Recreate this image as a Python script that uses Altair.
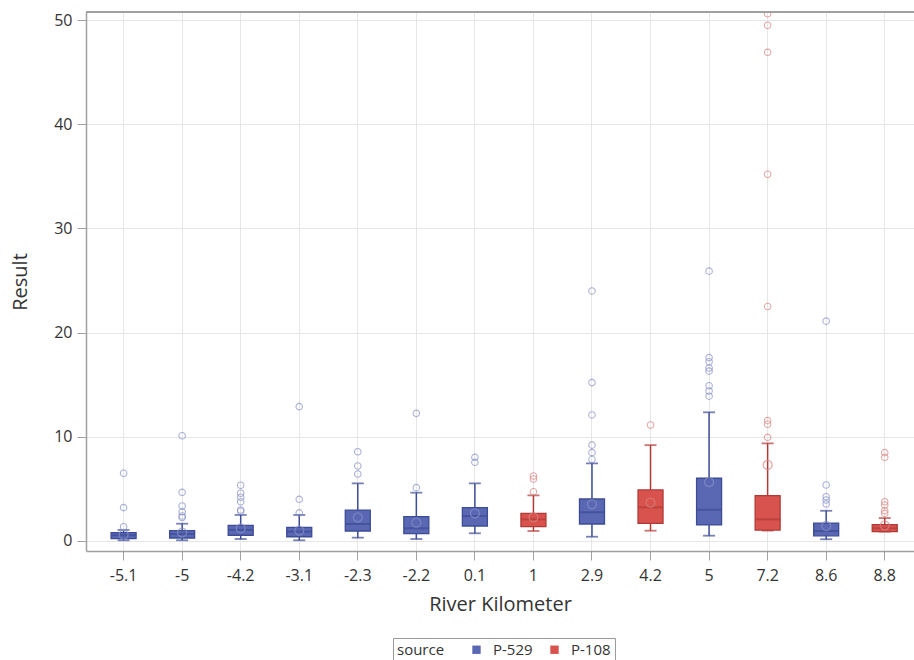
import altair as alt
import pandas as pd

# ---- data ----
cats = ["-5.1", "-5", "-4.2", "-3.1", "-2.3", "-2.2", "0.1", "1", "2.9", "4.2", "5", "7.2", "8.6", "8.8"]
source = ["P-529", "P-529", "P-529", "P-529", "P-529", "P-529", "P-529",
          "P-108", "P-529", "P-108", "P-529", "P-108", "P-529", "P-108"]
q1 = [0.22, 0.29, 0.55, 0.41, 0.96, 0.70, 1.44, 1.37, 1.63, 1.70, 1.54, 1.05, 0.50, 0.90]
med = [0.55, 0.67, 1.06, 0.90, 1.63, 1.22, 2.40, 2.08, 2.75, 3.23, 3.00, 2.08, 0.96, 1.22]
q3 = [0.80, 0.99, 1.50, 1.31, 2.97, 2.33, 3.20, 2.65, 4.03, 4.90, 6.02, 4.35, 1.72, 1.58]
wlo = [0.07, 0.07, 0.19, 0.07, 0.32, 0.19, 0.74, 0.96, 0.41, 0.99, 0.51, 1.00, 0.17, 0.90]
whi = [1.06, 1.66, 2.50, 2.50, 5.53, 4.64, 5.53, 4.38, 7.45, 9.20, 12.35, 9.37, 2.90, 2.20]
mean = [0.60, 0.80, 1.20, 1.00, 2.27, 1.76, 2.65, 2.27, 3.52, 3.68, 5.65, 7.30, 1.44, 1.50]

out_cat = (["-5.1"] * 3 + ["-5"] * 6 + ["-4.2"] * 6 + ["-3.1"] * 3 + ["-2.3"] * 3 + ["-2.2"] * 2
           + ["0.1"] * 2 + ["1"] * 3 + ["2.9"] * 6 + ["4.2"] * 1 + ["5"] * 8 + ["7.2"] * 8
           + ["8.6"] * 5 + ["8.8"] * 6)
out_val = ([6.5, 3.2, 1.37]
           + [10.1, 4.67, 3.36, 2.8, 2.4, 2.25]
           + [5.35, 4.58, 4.2, 3.77, 2.97, 2.85]
           + [12.9, 4.0, 2.7]
           + [8.57, 7.2, 6.43]
           + [12.25, 5.12]
           + [8.03, 7.55]
           + [6.24, 5.95, 4.73]
           + [24.0, 15.2, 12.1, 9.2, 8.48, 7.84]
           + [11.13]
           + [25.9, 17.6, 17.2, 16.6, 16.3, 14.9, 14.4, 13.9]
           + [50.6, 49.5, 46.9, 35.2, 22.5, 11.55, 11.2, 9.95]
           + [21.1, 5.37, 4.25, 3.93, 3.55]
           + [8.48, 8.03, 3.77, 3.45, 2.9, 2.65])

src_names = ["P-529", "P-108"]
fill_cols = ["#5a68b4", "#d8524e"]
line_cols = ["#3d4c96", "#b23a36"]
light_cols = ["#8690c8", "#d88480"]

fill_map = dict(zip(src_names, fill_cols))
line_map = dict(zip(src_names, line_cols))
light_map = dict(zip(src_names, light_cols))
src_of = dict(zip(cats, source))

box = pd.DataFrame({"cat": cats, "source": source, "q1": q1, "med": med, "q3": q3,
                    "wlo": wlo, "whi": whi, "mean": mean})
box["linec"] = box["source"].map(line_map)
box["lightc"] = box["source"].map(light_map)

outl = pd.DataFrame({"cat": out_cat, "val": out_val})
outl["lightc"] = outl["cat"].map(src_of).map(light_map)

W, H = 828, 539
TXT = "#333333"
FONT = "Open Sans"

xscale = alt.Scale(domain=cats, paddingInner=0, paddingOuter=0.071, align=1)
yscale = alt.Scale(domain=[-0.96, 50.77], nice=False, zero=False)

xenc = alt.X("cat:N", scale=xscale, sort=cats, title="River Kilometer",
             axis=alt.Axis(labelAngle=0, grid=True, gridColor="#e6e6e6", domain=True,
                           domainColor="#a0a0a0", domainWidth=1.5, tickColor="#a0a0a0",
                           tickSize=9, labelPadding=7, labelFontSize=16, titleFontSize=20,
                           titlePadding=11, titleFontWeight="normal", labelColor=TXT,
                           titleColor=TXT))
yaxis = alt.Axis(values=[0, 10, 20, 30, 40, 50], grid=True, gridColor="#e6e6e6", domain=True,
                 domainColor="#a0a0a0", domainWidth=1.5, tickColor="#a0a0a0", tickSize=9,
                 labelPadding=5, labelFontSize=16, titleFontSize=20, titlePadding=23,
                 titleFontWeight="normal", labelColor=TXT, titleColor=TXT)

base = alt.Chart(box)

whisk = base.mark_rule(strokeWidth=1.5).encode(
    x=xenc,
    y=alt.Y("wlo:Q", scale=yscale, title="Result", axis=yaxis),
    y2="whi:Q",
    color=alt.Color("linec:N", scale=None),
)
caps_lo = base.mark_tick(size=12, thickness=1.8).encode(
    x=alt.X("cat:N", scale=xscale, sort=cats), y=alt.Y("wlo:Q", scale=yscale),
    color=alt.Color("linec:N", scale=None))
caps_hi = base.mark_tick(size=12, thickness=1.8).encode(
    x=alt.X("cat:N", scale=xscale, sort=cats), y=alt.Y("whi:Q", scale=yscale),
    color=alt.Color("linec:N", scale=None))
bars = base.mark_bar(size=25, strokeWidth=1.3).encode(
    x=alt.X("cat:N", scale=xscale, sort=cats),
    y=alt.Y("q1:Q", scale=yscale),
    y2="q3:Q",
    fill=alt.Fill("source:N", scale=alt.Scale(domain=src_names, range=fill_cols),
                  legend=alt.Legend(title="source", orient="none", legendX=307, legendY=626,
                                    direction="horizontal", titleOrient="left",
                                    strokeColor="#9a9a9a", padding=4, symbolType="square",
                                    symbolSize=70, symbolStrokeWidth=0, labelFontSize=15,
                                    titleFontSize=15, titleFontWeight="normal",
                                    titleColor=TXT, labelColor=TXT, columnPadding=14,
                                    titlePadding=24, labelOffset=9)),
    stroke=alt.Stroke("linec:N", scale=None),
)
meds = base.mark_tick(size=25, thickness=2).encode(
    x=alt.X("cat:N", scale=xscale, sort=cats), y=alt.Y("med:Q", scale=yscale),
    color=alt.Color("linec:N", scale=None))
means = base.mark_point(shape="circle", filled=False, size=80, strokeWidth=1.3).encode(
    x=alt.X("cat:N", scale=xscale, sort=cats), y=alt.Y("mean:Q", scale=yscale),
    color=alt.Color("lightc:N", scale=None))
outs = alt.Chart(outl).mark_point(shape="circle", filled=False, size=42, strokeWidth=1.1,
                                  clip=True).encode(
    x=alt.X("cat:N", scale=xscale, sort=cats), y=alt.Y("val:Q", scale=yscale),
    color=alt.Color("lightc:N", scale=None))
top = alt.Chart(box).mark_rule(color="#a0a0a0", strokeWidth=1.5).encode(
    x=alt.value(0), x2=alt.value(W), y=alt.value(0))

chart = alt.layer(whisk, caps_lo, caps_hi, bars, meds, means, outs, top).properties(
    width=W, height=H,
    autosize=alt.AutoSizeParams(type="none"),
    padding={"left": 86, "top": 12, "right": 0, "bottom": 109},
).configure(font=FONT).configure_view(stroke=None)

chart.save("out.html", embed_options={"renderer": "svg", "actions": False})
